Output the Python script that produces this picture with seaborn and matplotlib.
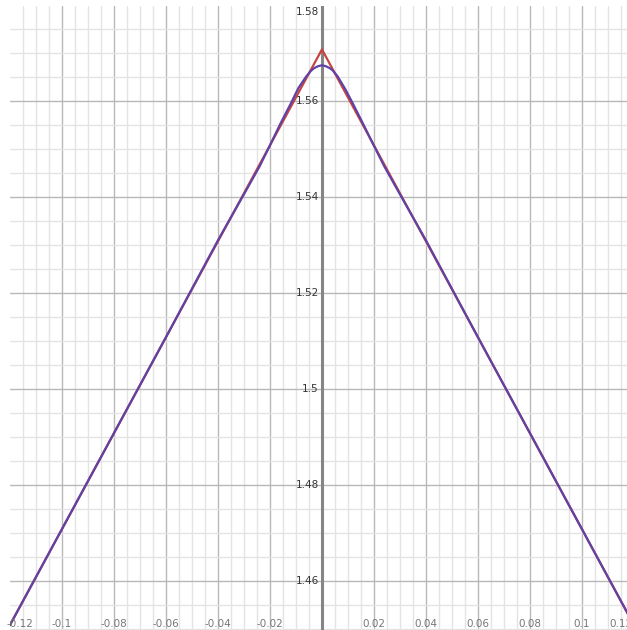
import numpy as np
import pandas as pd
import matplotlib
matplotlib.use('Agg')
import matplotlib.pyplot as plt
import seaborn as sns
from matplotlib.ticker import MultipleLocator

sns.set_style('white')
plt.rcParams['font.family'] = ['DejaVu Sans']

# red: V shape, values read at the corners
red_x = [-0.12, 0.0, 0.12]
red_y = [1.4508, 1.5708, 1.4508]

# purple: smooth curve wiggling around the V near the peak
purple_x = [-0.12, -0.06, -0.04, -0.03, -0.024, -0.02, -0.016, -0.012, -0.009,
            -0.006, -0.0043, -0.003, -0.0015, 0.0, 0.0015, 0.003, 0.0042, 0.006,
            0.009, 0.012, 0.016, 0.019, 0.024, 0.03, 0.04, 0.06, 0.12]
purple_y = [1.4508, 1.5108, 1.5310, 1.5406, 1.5464, 1.5508, 1.5553, 1.5595, 1.5628,
            1.5652, 1.5663, 1.5669, 1.5673, 1.5675, 1.5673, 1.5669, 1.5664, 1.5652,
            1.5625, 1.5594, 1.5551, 1.5518, 1.5464, 1.5406, 1.5310, 1.5108, 1.4508]

x_ticks = [-0.12, -0.1, -0.08, -0.06, -0.04, -0.02, 0.02, 0.04, 0.06, 0.08, 0.1, 0.12]
y_ticks = [1.46, 1.48, 1.5, 1.52, 1.54, 1.56, 1.58]

red_df = pd.DataFrame({'x': red_x, 'y': red_y})
purple_df = pd.DataFrame({'x': purple_x, 'y': purple_y})

fig = plt.figure(figsize=(6.27, 6.30), dpi=100)
ax = fig.add_axes([10/627, 0, 617/627, 624/630])

ax.set_xlim(-0.11995, 0.1173)
ax.set_ylim(1.4498, 1.57985)

# grid like a graphing calculator
ax.xaxis.set_major_locator(MultipleLocator(0.02))
ax.yaxis.set_major_locator(MultipleLocator(0.02))
ax.xaxis.set_minor_locator(MultipleLocator(0.005))
ax.yaxis.set_minor_locator(MultipleLocator(0.005))
ax.grid(which='major', color='#b8b8b8', linewidth=1.0)
ax.grid(which='minor', color='#e4e4e4', linewidth=1.0)
ax.set_axisbelow(True)
ax.tick_params(which='both', length=0, labelbottom=False, labelleft=False)
for s in ax.spines.values():
    s.set_visible(False)
ax.axvline(0, color='#858585', linewidth=2.2, zorder=1)

sns.lineplot(data=red_df, x='x', y='y', sort=False, color='#c74440', linewidth=1.6, ax=ax, zorder=3)
sns.lineplot(data=purple_df, x='x', y='y', sort=False, color='#6042a6', linewidth=1.6, ax=ax, zorder=4)
ax.set_xlabel('')
ax.set_ylabel('')

def fmt(v):
    return ('%g' % round(v, 4))

# x tick labels drawn inside the plot, near the bottom
y_lab = 1.4498 + 6.5 / 4800
for t in x_ticks:
    xp = t
    clip = True
    if t == -0.12:
        xp = -0.1162
        clip = False
    if t == 0.12:
        xp = 0.1148
    ax.text(xp, y_lab, fmt(t), ha='center', va='center', fontsize=7.5,
            color='#777777', clip_on=clip, zorder=5)

# y tick labels to the left of the vertical axis
for t in y_ticks:
    yp = t
    if t == 1.58:
        yp = 1.5785
    ax.text(-0.0012, yp, fmt(t), ha='right', va='center', fontsize=7.5,
            color='#333333', zorder=5)

fig.savefig('out.png', dpi=100)
